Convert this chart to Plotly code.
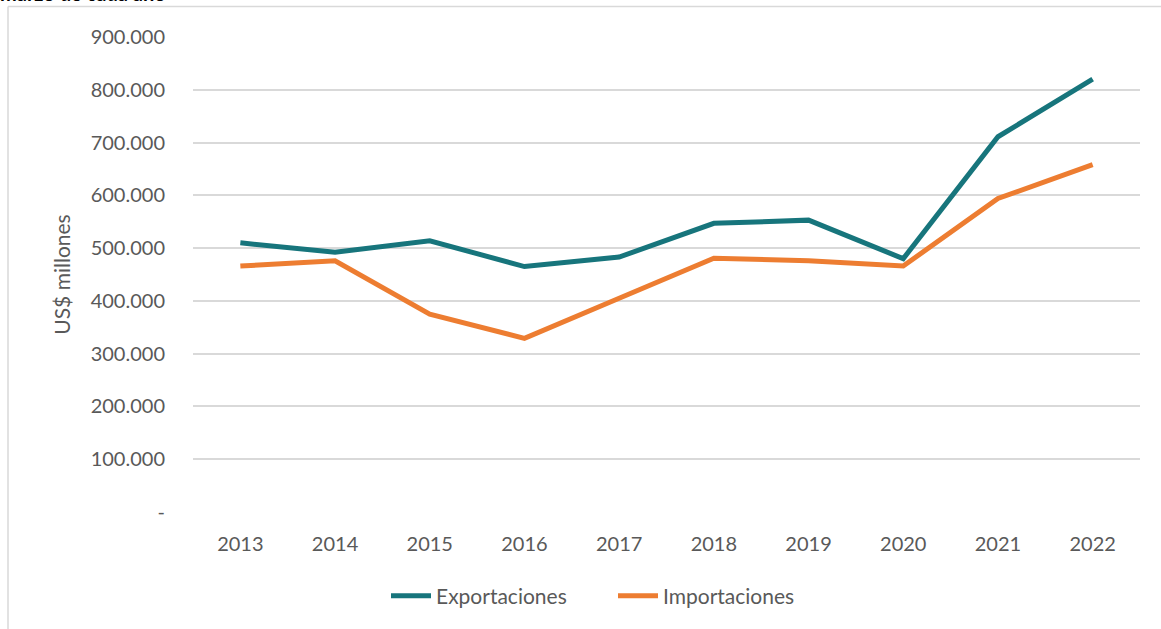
import plotly.graph_objects as go

years = ["2013", "2014", "2015", "2016", "2017", "2018", "2019", "2020", "2021", "2022"]
exportaciones = [510000, 492000, 514000, 465000, 483000, 547000, 553000, 480000, 711000, 820000]
importaciones = [466000, 476000, 375000, 329000, 405000, 481000, 476000, 466000, 594000, 658000]
y_ticks = [0, 100000, 200000, 300000, 400000, 500000, 600000, 700000, 800000, 900000]
y_ticktext = ["-", "100.000", "200.000", "300.000", "400.000", "500.000", "600.000", "700.000", "800.000", "900.000"]

W, H = 1161, 629
L, R, T, B = 193, 21, 37, 117
pw, ph = W - L - R, H - T - B

def px(x):
    return (x - L) / pw

def py(y):
    return (H - B - y) / ph

FONT = "Lato"
GREY = "#595959"

fig = go.Figure()
fig.add_trace(go.Scatter(x=years, y=exportaciones, mode="lines", name="Exportaciones",
                         line=dict(color="#17757C", width=5)))
fig.add_trace(go.Scatter(x=years, y=importaciones, mode="lines", name="Importaciones",
                         line=dict(color="#ED7D31", width=5)))

fig.update_layout(
    width=W, height=H,
    margin=dict(l=L, r=R, t=T, b=B, autoexpand=False),
    paper_bgcolor="white", plot_bgcolor="white",
    font=dict(family=FONT, size=20, color=GREY),
    showlegend=True,
    legend=dict(orientation="h", x=px(386), xanchor="left", y=py(596), yanchor="middle",
                font=dict(family=FONT, size=21, color=GREY), itemwidth=40,
                entrywidth=172, entrywidthmode="pixels",
                traceorder="normal", bgcolor="rgba(0,0,0,0)"),
    xaxis=dict(type="category", showgrid=False, zeroline=False, showline=False,
               ticks="", ticklabelstandoff=18, tickfont=dict(size=20, color=GREY),
               range=[-0.5, 9.5]),
    yaxis=dict(range=[0, 900000], tickvals=y_ticks, ticktext=y_ticktext,
               showgrid=True, gridcolor="#D9D9D9", gridwidth=1.5, zeroline=False,
               showline=False, ticks="", ticklabelstandoff=27,
               tickfont=dict(size=20, color=GREY),
               title=dict(text="US$ millones", font=dict(size=21, color=GREY), standoff=14)),
    shapes=[
        dict(type="line", xref="paper", yref="paper", x0=px(8), x1=px(1170), y0=py(6.5), y1=py(6.5),
             line=dict(color="#D9D9D9", width=1.5)),
        dict(type="line", xref="paper", yref="paper", x0=px(8), x1=px(8), y0=py(6.5), y1=py(640),
             line=dict(color="#D9D9D9", width=1.5)),
    ],
    annotations=[
        dict(text="<b>marzo de cada año</b>", xref="paper", yref="paper", x=px(-2), y=py(7),
             xanchor="left", yanchor="bottom", showarrow=False,
             font=dict(family=FONT, size=20, color="black")),
    ],
)

fig.write_html("out.html", config={"displayModeBar": False},
               post_script="document.body.style.margin='0';")
